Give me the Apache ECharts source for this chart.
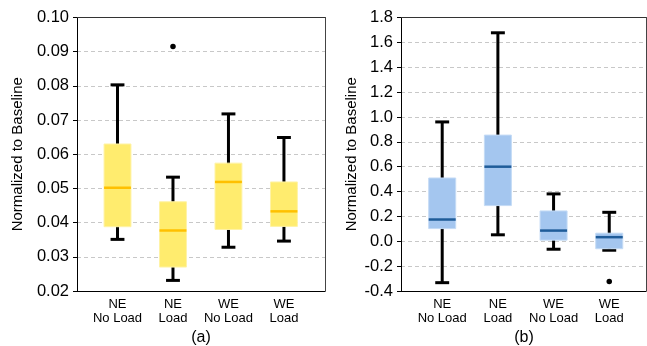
<!DOCTYPE html>
<html>
<head>
<meta charset="utf-8">
<script src="https://cdn.jsdelivr.net/npm/echarts@6/dist/echarts.min.js"></script>
<style>
html,body{margin:0;padding:0;background:#fff;}
#c{width:647px;height:346px;}
</style>
</head>
<body>
<div id="c"></div>
<script>
const categories = ['NE\nNo Load', 'NE\nLoad', 'WE\nNo Load', 'WE\nLoad'];
const positions = [1, 2, 3, 4];

// Panel (a)
const aWhiskerLow  = [0.0351, 0.0231, 0.0328, 0.0346];
const aQ1          = [0.0388, 0.0270, 0.0380, 0.0389];
const aMedian      = [0.0502, 0.0377, 0.0519, 0.0433];
const aQ3          = [0.0630, 0.0461, 0.0574, 0.0519];
const aWhiskerHigh = [0.0803, 0.0533, 0.0718, 0.0649];
const aOutliers    = [[2, 0.0915]];

// Panel (b)
const bWhiskerLow  = [-0.333, 0.052, -0.064, -0.072];
const bQ1          = [0.102, 0.287, 0.009, -0.060];
const bMedian      = [0.175, 0.600, 0.086, 0.033];
const bQ3          = [0.509, 0.854, 0.244, 0.065];
const bWhiskerHigh = [0.960, 1.677, 0.381, 0.233];
const bOutliers    = [[4, -0.323]];

const panelLabels = ['(a)', '(b)'];
const yTitle = 'Normalized to Baseline';

function rows(lo, q1, med, q3, hi) {
  return positions.map((p, i) => [p, lo[i], q1[i], med[i], q3[i], hi[i]]);
}

function makeRender(fill, edge, medColor) {
  return function (params, api) {
    const x = api.value(0);
    const lo = api.coord([x, api.value(1)]);
    const q1 = api.coord([x, api.value(2)]);
    const med = api.coord([x, api.value(3)]);
    const q3 = api.coord([x, api.value(4)]);
    const hi = api.coord([x, api.value(5)]);
    const bw = api.size([0.485, 0])[0];
    const cw = api.size([0.25, 0])[0];
    const cx = lo[0];
    return {
      type: 'group',
      children: [
        { type: 'line', shape: { x1: cx, y1: hi[1], x2: cx, y2: lo[1] }, style: { stroke: '#000', lineWidth: 3 } },
        { type: 'line', shape: { x1: cx - cw / 2, y1: hi[1], x2: cx + cw / 2, y2: hi[1] }, style: { stroke: '#000', lineWidth: 3 } },
        { type: 'line', shape: { x1: cx - cw / 2, y1: lo[1], x2: cx + cw / 2, y2: lo[1] }, style: { stroke: '#000', lineWidth: 3 } },
        { type: 'rect', shape: { x: cx - bw / 2, y: q3[1], width: bw, height: q1[1] - q3[1] }, style: { fill: fill, stroke: edge, lineWidth: 1 } },
        { type: 'line', shape: { x1: cx - bw / 2, y1: med[1], x2: cx + bw / 2, y2: med[1] }, style: { stroke: medColor, lineWidth: 2.5 } }
      ]
    };
  };
}

const font = '"Liberation Sans", Arial, sans-serif';

function xAxisCfg(gridIndex, min, max) {
  return {
    type: 'value', gridIndex: gridIndex, min: min, max: max,
    axisLine: { show: true, onZero: false, lineStyle: { color: '#000', width: 1 } },
    axisTick: { show: false },
    splitLine: { show: false },
    axisLabel: {
      customValues: positions,
      formatter: v => categories[Math.round(v) - 1],
      fontFamily: font, fontSize: 13, color: '#000', lineHeight: 14, margin: 6
    }
  };
}

function frameX(gridIndex, min, max) {
  return {
    type: 'value', gridIndex: gridIndex, min: min, max: max, position: 'top',
    axisLine: { show: true, onZero: false, lineStyle: { color: '#333', width: 1 } },
    axisTick: { show: false }, axisLabel: { show: false }, splitLine: { show: false }
  };
}

function frameY(gridIndex, min, max) {
  return {
    type: 'value', gridIndex: gridIndex, min: min, max: max, position: 'right',
    axisLine: { show: true, onZero: false, lineStyle: { color: '#444', width: 1 } },
    axisTick: { show: false }, axisLabel: { show: false }, splitLine: { show: false }
  };
}

function yAxisCfg(gridIndex, min, max, interval, digits, gap) {
  return {
    type: 'value', gridIndex: gridIndex, min: min, max: max, interval: interval,
    name: yTitle, nameLocation: 'middle', nameGap: gap,
    nameTextStyle: { fontFamily: font, fontSize: 15, color: '#000' },
    axisLine: { show: true, onZero: false, lineStyle: { color: '#000', width: 1 } },
    axisTick: { show: true, inside: false, length: 4, lineStyle: { color: '#000' } },
    axisLabel: {
      formatter: v => v.toFixed(digits),
      fontFamily: font, fontSize: 16.5, color: '#000', margin: 8
    },
    splitLine: { show: true, lineStyle: { color: '#c8c8c8', type: [4, 3], width: 1 } }
  };
}

const chart = echarts.init(document.getElementById('c'), null, { renderer: 'canvas' });
chart.setOption({
  animation: false,
  backgroundColor: '#fff',
  grid: [
    { left: 77, right: 322, top: 17.5, bottom: 55, containLabel: false },
    { left: 401, right: 1, top: 17.5, bottom: 55, containLabel: false }
  ],
  xAxis: [xAxisCfg(0, 0.27, 4.74), xAxisCfg(1, 0.26, 4.66), frameX(0, 0.27, 4.74), frameX(1, 0.26, 4.66)],
  yAxis: [yAxisCfg(0, 0.02, 0.10, 0.01, 2, 52), yAxisCfg(1, -0.4, 1.8, 0.2, 1, 42), frameY(0, 0.02, 0.10), frameY(1, -0.4, 1.8)],
  graphic: [
    { type: 'text', x: 201, y: 338, style: { text: panelLabels[0], fontFamily: font, fontSize: 16, fill: '#000', textAlign: 'center', textVerticalAlign: 'middle' } },
    { type: 'text', x: 524, y: 338, style: { text: panelLabels[1], fontFamily: font, fontSize: 16, fill: '#000', textAlign: 'center', textVerticalAlign: 'middle' } }
  ],
  series: [
    {
      type: 'custom', xAxisIndex: 0, yAxisIndex: 0,
      renderItem: makeRender('#FFEC6E', '#FFF3A6', '#FFC000'),
      data: rows(aWhiskerLow, aQ1, aMedian, aQ3, aWhiskerHigh),
      encode: { x: 0, y: [1, 2, 3, 4, 5] }
    },
    {
      type: 'scatter', xAxisIndex: 0, yAxisIndex: 0,
      data: aOutliers, symbolSize: 5.5, itemStyle: { color: '#000', opacity: 1 }
    },
    {
      type: 'custom', xAxisIndex: 1, yAxisIndex: 1,
      renderItem: makeRender('#A4C6EF', '#C4DBF5', '#1F5C99'),
      data: rows(bWhiskerLow, bQ1, bMedian, bQ3, bWhiskerHigh),
      encode: { x: 0, y: [1, 2, 3, 4, 5] }
    },
    {
      type: 'scatter', xAxisIndex: 1, yAxisIndex: 1,
      data: bOutliers, symbolSize: 5.5, itemStyle: { color: '#000', opacity: 1 }
    }
  ]
});
</script>
</body>
</html>
